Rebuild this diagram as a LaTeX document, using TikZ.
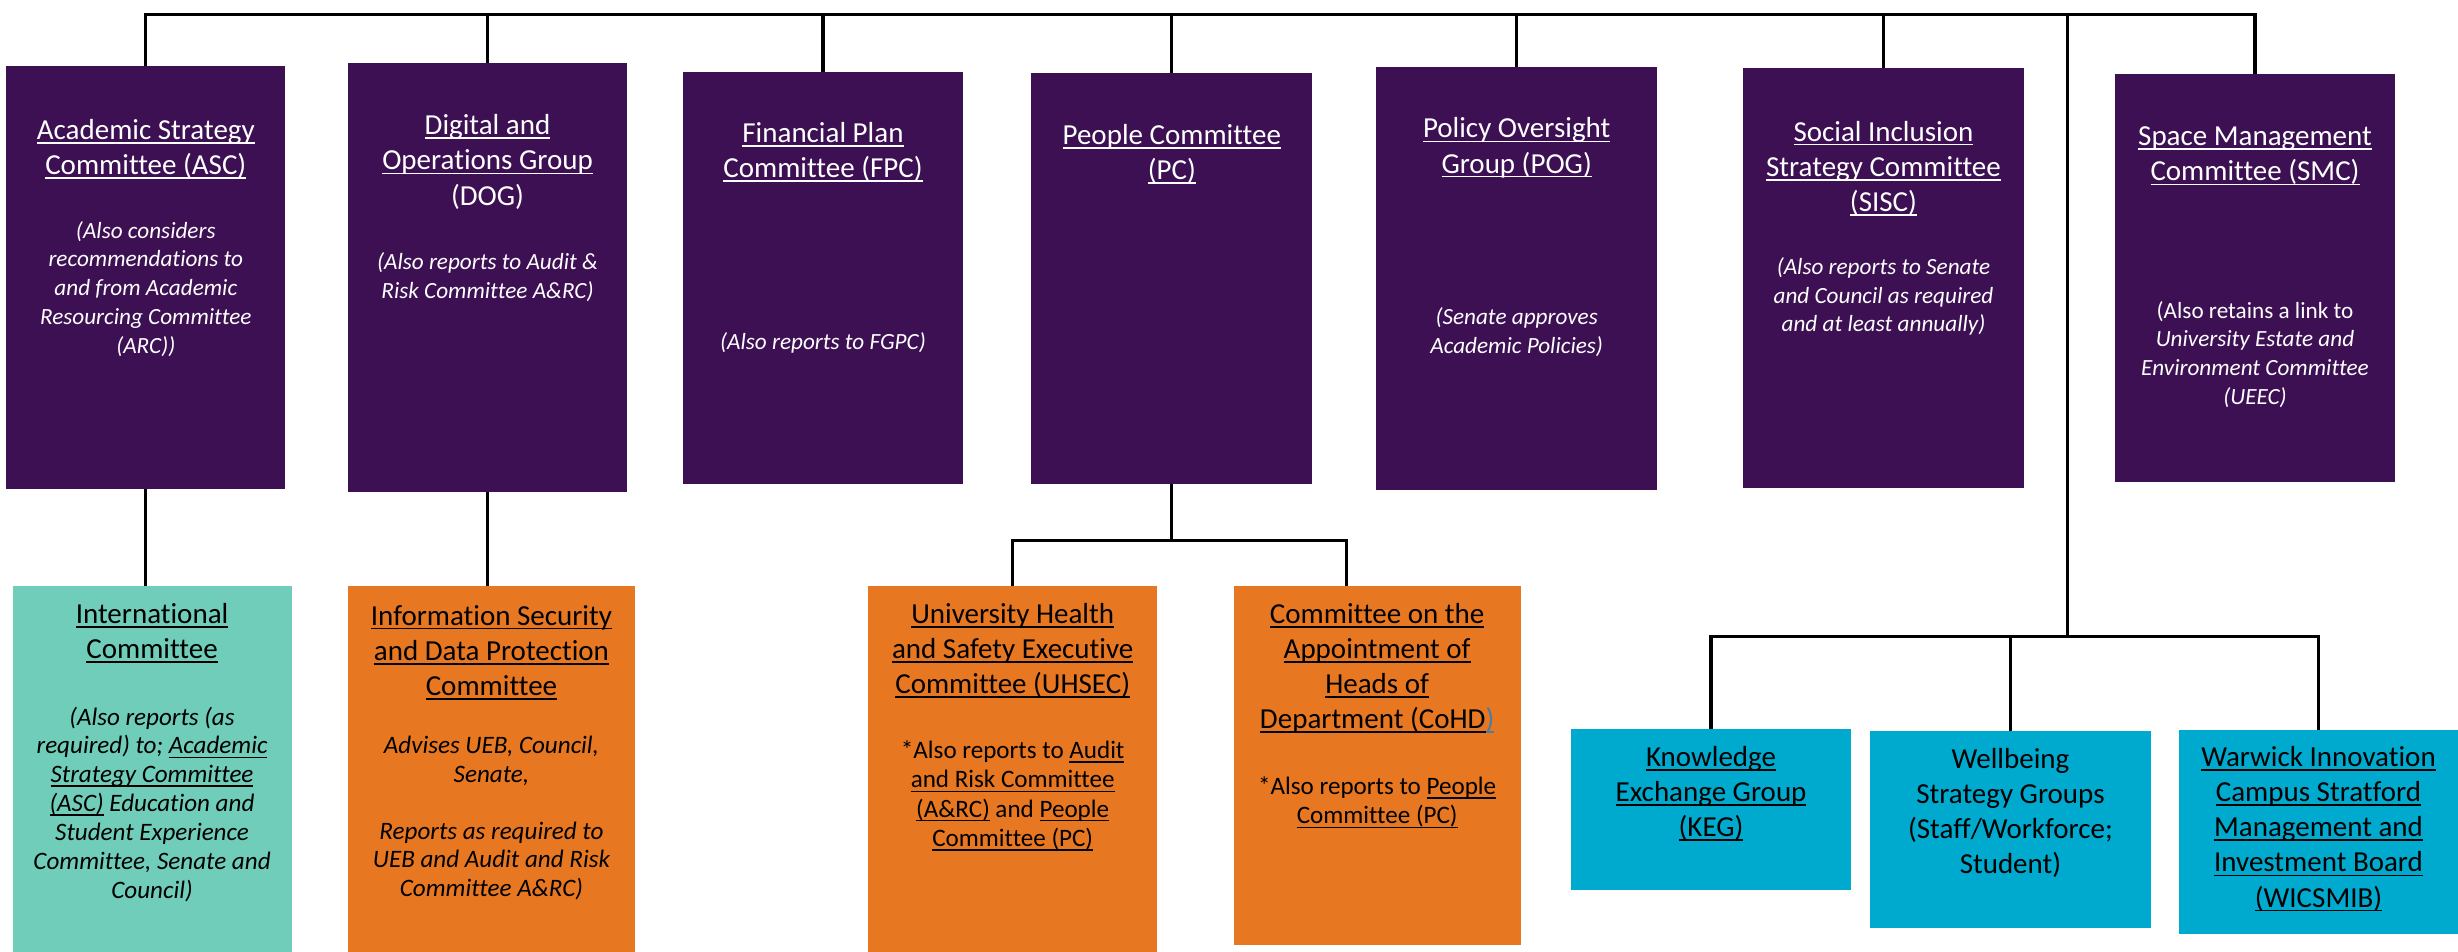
\documentclass[tikz,border=0pt]{standalone}
\usepackage{fontspec}
\setmainfont{Carlito}[Ligatures=CommonOff]
\usetikzlibrary{calc}

\definecolor{aubergine}{HTML}{3C1053}
\definecolor{mint}{HTML}{6FCDB9}
\definecolor{tangerine}{HTML}{E87722}
\definecolor{sky}{HTML}{00A9CE}
\definecolor{linkblue}{HTML}{4A7EA0}

% underlined text
\newcommand\ul[1]{\setbox0\hbox{#1}\rlap{\rule[-2.8pt]{\wd0}{1.1pt}}\box0\relax}

\tikzset{
  cbox/.style={anchor=north west, inner sep=0pt, outer sep=0pt},
  pbox/.style={cbox, fill=aubergine},
  mbox/.style={cbox, fill=mint},
  obox/.style={cbox, fill=tangerine},
  bbox/.style={cbox, fill=sky},
  % texts are placed by the baseline of their last line
  ttl/.style={align=center, anchor=base, inner sep=0pt, font=\fontsize{18.5}{22.4}\selectfont},
  note/.style={align=center, anchor=base, inner sep=0pt, font=\fontsize{14.8}{18.3}\selectfont\itshape},
  lnote/.style={align=center, anchor=base, inner sep=0pt, font=\fontsize{16}{18.4}\selectfont\itshape},
  rnote/.style={align=center, anchor=base, inner sep=0pt, font=\fontsize{16}{18.6}\selectfont},
  link/.style={line width=2pt}
}

\begin{document}
\begin{tikzpicture}[x=1pt, y=-1pt]
\useasboundingbox (0,0) rectangle (1568,606.7);
% top row
\node[pbox, minimum width=178pt, minimum height=270pt] (asc) at (4,42) {};
\node[pbox, minimum width=178pt, minimum height=274pt] (dog) at (222,40) {};
\node[pbox, minimum width=178pt, minimum height=263pt] (fpc) at (436,46) {};
\node[pbox, minimum width=179pt, minimum height=262pt] (pc) at (658,46.5) {};
\node[pbox, minimum width=179pt, minimum height=270pt] (pog) at (878,42.5) {};
\node[pbox, minimum width=179pt, minimum height=268pt] (sisc) at (1112,43.5) {};
\node[pbox, minimum width=179pt, minimum height=260pt] (smc) at (1349,47.5) {};
% bottom row
\node[mbox, minimum width=178pt, minimum height=233pt] (intl) at (8,374) {};
\node[obox, minimum width=183pt, minimum height=233pt] (isdp) at (222,374) {};
\node[obox, minimum width=184pt, minimum height=233pt] (uhsec) at (554,374) {};
\node[obox, minimum width=183pt, minimum height=229pt] (cohd) at (787,374) {};
\node[bbox, minimum width=179pt, minimum height=103pt] (keg) at (1002,465) {};
\node[bbox, minimum width=179pt, minimum height=126pt] (wsg) at (1193,466) {};
\node[bbox, minimum width=178pt, minimum height=130pt] (wicsmib) at (1390,465.5) {};

% texts
\node[ttl, text=white] (asct) at (asc.north |- 0,111.4) {\ul{Academic Strategy}\\\ul{Committee (ASC)}};
\node[note, text=white] (ascn) at (asc.north |- 0,225.2) {(Also considers\\recommendations to\\and from Academic\\Resourcing Committee\\(ARC))};
\node[ttl, text=white] (dogt) at (dog.north |- 0,130.8) {\ul{Digital and}\\\ul{Operations Group}\\(DOG)};
\node[note, text=white] (dogn) at (dog.north |- 0,190.3) {(Also reports to Audit \&\\Risk Committee A\&RC)};
\node[ttl, text=white] (fpct) at (fpc.north |- 0,113.4) {\ul{Financial Plan}\\\ul{Committee (FPC)}};
\node[note, text=white] (fpcn) at (fpc.north |- 0,223) {(Also reports to FGPC)};
\node[ttl, text=white] (pct) at (pc.north |- 0,114.4) {\ul{People Committee}\\\ul{(PC)}};
\node[ttl, text=white] (pogt) at (pog.north |- 0,110.4) {\ul{Policy Oversight}\\\ul{Group (POG)}};
\node[note, text=white] (pogn) at (pog.north |- 0,225.3) {(Senate approves\\Academic Policies)};
\node[ttl, text=white] (sisct) at (sisc.north |- 0,134.8) {\ul{Social Inclusion}\\\ul{Strategy Committee}\\\ul{(SISC)}};
\node[note, text=white] (siscn) at (sisc.north |- 0,211.6) {(Also reports to Senate\\and Council as required\\and at least annually)};
\node[ttl, text=white] (smct) at (smc.north |- 0,115.4) {\ul{Space Management}\\\ul{Committee (SMC)}};
\node[note, text=white] (smcn) at (smc.north |- 0,257.9) {{\upshape(Also retains a link to}\\University Estate and\\Environment Committee\\(UEEC)};

\node[ttl] (intlt) at (intl.north |- 0,420) {\ul{International}\\\ul{Committee}};
\node[lnote] (intln) at (intl.north |- 0,572.9) {(Also reports (as\\required) to; \ul{Academic}\\\ul{Strategy Committee}\\\ul{(ASC)} Education and\\Student Experience\\Committee, Senate and\\Council)};
\node[ttl] (isdpt) at (isdp.north |- 0,443.5) {\ul{Information Security}\\\ul{and Data Protection}\\\ul{Committee}};
\node[lnote] (isdpn) at (isdp.north |- 0,572.1) {Advises UEB, Council,\\Senate,\\[18pt]Reports as required to\\UEB and Audit and Risk\\Committee A\&RC)};
\node[ttl] (uhsect) at (uhsec.north |- 0,442.4) {\ul{University Health}\\\ul{and Safety Executive}\\\ul{Committee (UHSEC)}};
\node[rnote] (uhsecn) at (uhsec.north |- 0,539.8) {*Also reports to \ul{Audit}\\\ul{and Risk Committee}\\\ul{(A\&RC)} and \ul{People}\\\ul{Committee (PC)}};
\node[ttl] (cohdt) at (cohd.north |- 0,464.8) {\ul{Committee on the}\\\ul{Appointment of}\\\ul{Heads of}\\\ul{Department (CoHD}\textcolor{linkblue}{\ul{)}}};
\node[rnote] (cohdn) at (cohd.north |- 0,525.6) {*Also reports to \ul{People}\\\ul{Committee (PC)}};
\node[ttl] (kegt) at (keg.north |- 0,533.8) {\ul{Knowledge}\\\ul{Exchange Group}\\\ul{(KEG)}};
\node[ttl] (wsgt) at (wsg.north |- 0,557.2) {Wellbeing\\Strategy Groups\\(Staff/Workforce;\\Student)};
\node[ttl] (wicsmibt) at (wicsmib.north |- 0,578.6) {\ul{Warwick Innovation}\\\ul{Campus Stratford}\\\ul{Management and}\\\ul{Investment Board}\\\ul{(WICSMIB)}};

% connectors
\coordinate (top) at (0,9);
\draw[link] (asc.north) -- (asc.north |- top) -- (smc.north |- top) -- (smc.north);
\foreach \n in {dog,fpc,pc,pog,sisc}
  \draw[link] (\n.north) -- (\n.north |- top);
\coordinate (hub) at (1319,406);
\draw[link] (hub |- top) -- (hub);
\draw[link] (keg.north) -- (keg.north |- hub) -- (wicsmib.north |- hub) -- (wicsmib.north);
\draw[link] (wsg.north) -- (wsg.north |- hub);
\coordinate (pcfork) at (748,345);
\coordinate (cohdin) at ($(cohd.north)+(-19.5,0)$);
\draw[link] (pc.south) -- (pc.south |- pcfork);
\draw[link] (uhsec.north) -- (uhsec.north |- pcfork) -- (cohdin |- pcfork) -- (cohdin);
\draw[link] (asc.south) -- (asc.south |- intl.north);
\draw[link] (dog.south) -- (dog.south |- isdp.north);
\end{tikzpicture}
\end{document}
